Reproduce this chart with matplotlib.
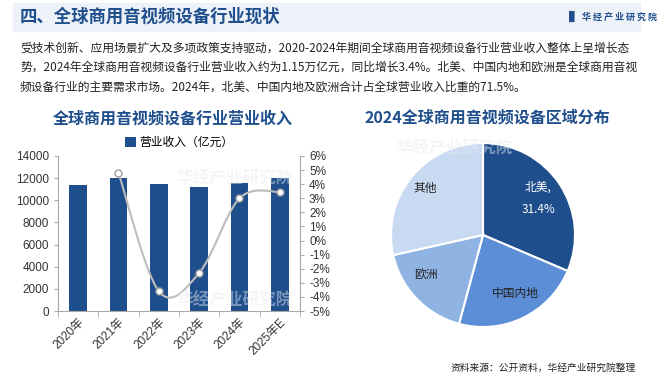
import matplotlib
matplotlib.use("Agg")
import matplotlib.pyplot as plt
from matplotlib.path import Path
from matplotlib.patches import PathPatch, Rectangle
from matplotlib.ticker import FuncFormatter

plt.rcParams['font.family'] = ['Noto Sans CJK SC', 'DejaVu Sans']
plt.rcParams['axes.unicode_minus'] = False

# data
years = ["2020年", "2021年", "2022年", "2023年", "2024年", "2025年E"]
revenue = [11420, 11990, 11450, 11240, 11570, 11990]
growth_years = ["2021年", "2022年", "2023年", "2024年", "2025年E"]
growth = [4.8, -3.6, -2.3, 3.0, 3.45]

regions = ["北美", "中国内地", "欧洲", "其他"]
shares = [31.4, 22.8, 17.3, 28.5]

dark = "#1F4E8C"
pie_colors = ["#1F4E8C", "#5B8ED6", "#8FB4E3", "#C8DAF1"]
num_font = ['Liberation Sans', 'Noto Sans CJK SC']

W, H = 660, 375
fig = plt.figure(figsize=(6.6, 3.75), dpi=100)


def fx(px):
    return px / W


def fy(py):
    return 1 - py / H


# header band
fig.patches.append(Rectangle((fx(13), fy(31)), fx(627), 28 / H, transform=fig.transFigure,
                             color="#EDF1F8", zorder=0))
fig.text(fx(20), fy(17), "四、全球商用音视频设备行业现状", fontsize=12.5, fontweight="bold",
         color=dark, va="center", ha="left")
fig.text(fx(569), fy(17), "▌", fontsize=8, color=dark, va="center", ha="left")
fig.text(fx(582), fy(17), "华 经 产 业 研 究 院", fontsize=6.5, fontweight="bold",
         color=dark, va="center", ha="left")

para = ["受技术创新、应用场景扩大及多项政策支持驱动，2020-2024年期间全球商用音视频设备行业营业收入整体上呈增长态",
        "势，2024年全球商用音视频设备行业营业收入约为1.15万亿元，同比增长3.4%。北美、中国内地和欧洲是全球商用音视",
        "频设备行业的主要需求市场。2024年，北美、中国内地及欧洲合计占全球营业收入比重的71.5%。"]
for i, line in enumerate(para):
    fig.text(fx(20), fy(48 + i * 19.5), line, fontsize=8.5, color="#222222", va="center", ha="left")

# faint watermarks
for (x, y) in [(235, 178), (235, 300), (455, 148)]:
    fig.text(fx(x), fy(y), "华经产业研究院", fontsize=12, fontweight="bold", color="#E6EBF2",
             alpha=0.45, va="center", ha="center", zorder=0)

# bar chart
ax = fig.add_axes([fx(58), fy(311), fx(300 - 58), (311 - 156) / H])
x = list(range(len(years)))
ax.bar(x, revenue, width=0.44, color=dark, label="营业收入（亿元）", zorder=2)
ax.set_xlim(-0.5, len(years) - 0.5)
ax.set_ylim(0, 14000)
ax.set_yticks(range(0, 14001, 2000))
ax.set_xticks(x)
ax.set_xticklabels(years, rotation=45, ha="right", rotation_mode="anchor", family=num_font, fontsize=8.5)
ax.set_xticks([i + 0.5 for i in range(-1, len(years))], minor=True)
ax.tick_params(axis="x", which="major", length=0, pad=4, colors="#333333")
ax.tick_params(axis="x", which="minor", length=4, color="#AAAAAA")
ax.tick_params(axis="y", length=3, color="#AAAAAA", labelsize=8.5, colors="#333333")
for lab in ax.get_yticklabels():
    lab.set_family(num_font)
for s in ["top", "right"]:
    ax.spines[s].set_visible(False)
for s in ["left", "bottom"]:
    ax.spines[s].set_color("#AAAAAA")
ax.patch.set_alpha(0)
ax.legend(loc="lower center", bbox_to_anchor=(0.5, 1.0), frameon=False, fontsize=8.5,
          handlelength=0.9, handleheight=0.9, handletextpad=0.3, borderaxespad=0.2)

ax2 = ax.twinx()
ax2.set_ylim(-5, 6)
ax2.set_yticks(range(-5, 7))
ax2.yaxis.set_major_formatter(FuncFormatter(lambda v, p: f"{int(v)}%"))
ax2.tick_params(axis="y", length=3, color="#AAAAAA", labelsize=8.5, colors="#333333")
for lab in ax2.get_yticklabels():
    lab.set_family(num_font)
for s in ["top", "left", "bottom"]:
    ax2.spines[s].set_visible(False)
ax2.spines["right"].set_color("#AAAAAA")

# smoothed growth line (Catmull-Rom bezier through the points)
gx = [years.index(g) for g in growth_years]
pts = list(zip(gx, growth))
verts = [pts[0]]
codes = [Path.MOVETO]
for i in range(len(pts) - 1):
    p0 = pts[i - 1] if i > 0 else pts[i]
    p1 = pts[i]
    p2 = pts[i + 1]
    p3 = pts[i + 2] if i + 2 < len(pts) else pts[i + 1]
    c1 = (p1[0] + (p2[0] - p0[0]) / 6, p1[1] + (p2[1] - p0[1]) / 6)
    c2 = (p2[0] - (p3[0] - p1[0]) / 6, p2[1] - (p3[1] - p1[1]) / 6)
    verts += [c1, c2, p2]
    codes += [Path.CURVE4] * 3
ax2.add_patch(PathPatch(Path(verts, codes), facecolor="none", edgecolor="#BDBDBD", lw=1.5, zorder=3))
ax2.plot(gx, growth, "o", ms=5, mfc="white", mec="#A0A0A0", mew=1.0, zorder=4)

fig.text(fx(173), fy(118), "全球商用音视频设备行业营业收入", fontsize=11.5, fontweight="bold",
         color=dark, va="center", ha="center")

# pie chart
axp = fig.add_axes([fx(383), fy(335), 200 / W, 200 / H])
wedges, texts = axp.pie(shares, colors=pie_colors, startangle=90, counterclock=False, radius=0.92,
                        labels=["北美,\n31.4%", "中国内地", "欧洲", "其他"], labeldistance=0.72,
                        wedgeprops=dict(edgecolor="white", linewidth=1.5),
                        textprops=dict(fontsize=8.5, color="#222222", ha="center", va="center"))
texts[0].set_color("white")
texts[0].set_linespacing(2.0)
texts[1].set_position((0.32, -0.58))
texts[2].set_position((-0.57, -0.40))
texts[3].set_position((-0.58, 0.47))
axp.set_xlim(-1, 1)
axp.set_ylim(-1, 1)

fig.text(fx(487), fy(117), "2024全球商用音视频设备区域分布", fontsize=11.5, fontweight="bold",
         color=dark, va="center", ha="center")

fig.text(fx(636), fy(368), "资料来源：公开资料，华经产业研究院整理", fontsize=7, color="#222222",
         va="center", ha="right")

fig.savefig("out.png", dpi=100)
